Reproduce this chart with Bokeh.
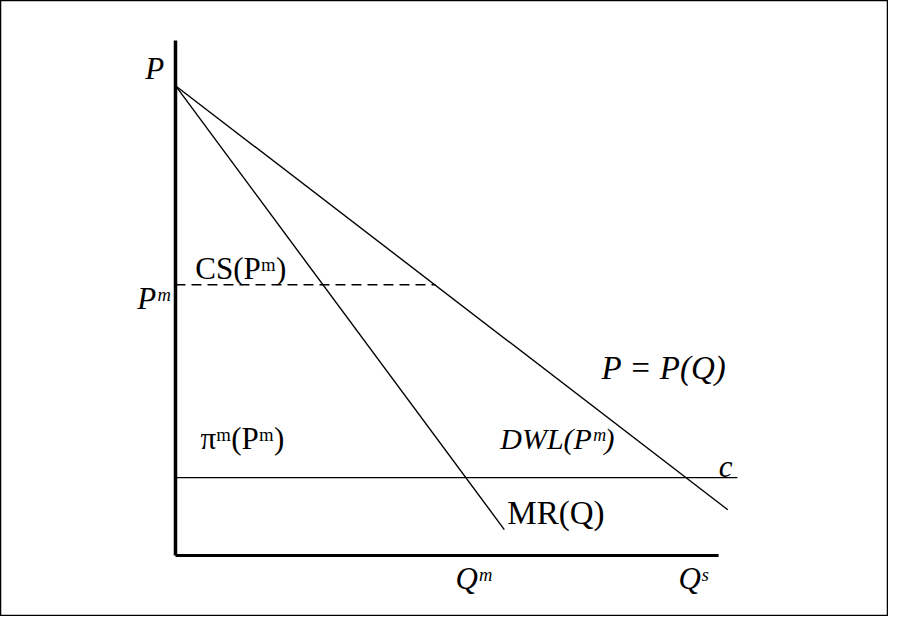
from bokeh.plotting import figure
from bokeh.models import Label, Range1d
from bokeh.embed import file_html
from bokeh.resources import INLINE

# Data (economic units)
choke_price = 9.23
demand_q = [0.0, 10.85]
demand_p = [choke_price, 0.90]
mr_q = [0.0, 6.46]
mr_p = [choke_price, 0.51]
cost_c = 1.53
cost_q = [0.0, 11.04]
p_m = 5.32
pm_q = [0.0, 5.11]
axis_top = 10.12
axis_right = 10.67

FONT = "Liberation Serif"

p = figure(width=888, height=616, output_backend="svg", toolbar_location=None,
           x_range=Range1d(-3.438, 14.008), y_range=Range1d(-1.198, 10.904),
           min_border=0)
p.axis.visible = False
p.grid.visible = False
p.outline_line_color = "black"
p.outline_line_width = 1.5

# axes
p.line([0, 0], [0, axis_top], line_color="black", line_width=3.5)
p.line([0, axis_right], [0, 0], line_color="black", line_width=3)

# curves
p.line(demand_q, demand_p, line_color="black", line_width=1.4)
p.line(mr_q, mr_p, line_color="black", line_width=1.4)
p.line(cost_q, [cost_c, cost_c], line_color="black", line_width=1.4)
p.line(pm_q, [p_m, p_m], line_color="black", line_width=1.3, line_dash="10 6")

labels = [
    ("P", -0.41, 9.57, "center", "italic", "31px"),
    ("Pᵐ", -0.75, 5.05, "left", "italic", "31px"),
    ("CS(Pᵐ)", 0.39, 5.64, "left", "normal", "31px"),
    ("πᵐ(Pᵐ)", 0.49, 2.30, "left", "normal", "31px"),
    ("DWL(Pᵐ)", 6.38, 2.30, "left", "italic", "30px"),
    ("P = P(Q)", 8.37, 3.69, "left", "italic", "33px"),
    ("c", 10.81, 1.75, "center", "italic", "31px"),
    ("MR(Q)", 6.52, 0.83, "left", "normal", "33px"),
    ("Qᵐ", 5.50, -0.45, "left", "italic", "31px"),
    ("Qˢ", 9.88, -0.45, "left", "italic", "31px"),
]
for txt, x, y, align, style, size in labels:
    p.add_layout(Label(x=x, y=y, text=txt, text_font=FONT, text_font_size=size,
                       text_font_style=style, text_align=align,
                       text_baseline="middle", text_color="black"))

open("out.html", "w").write(file_html(p, INLINE))
